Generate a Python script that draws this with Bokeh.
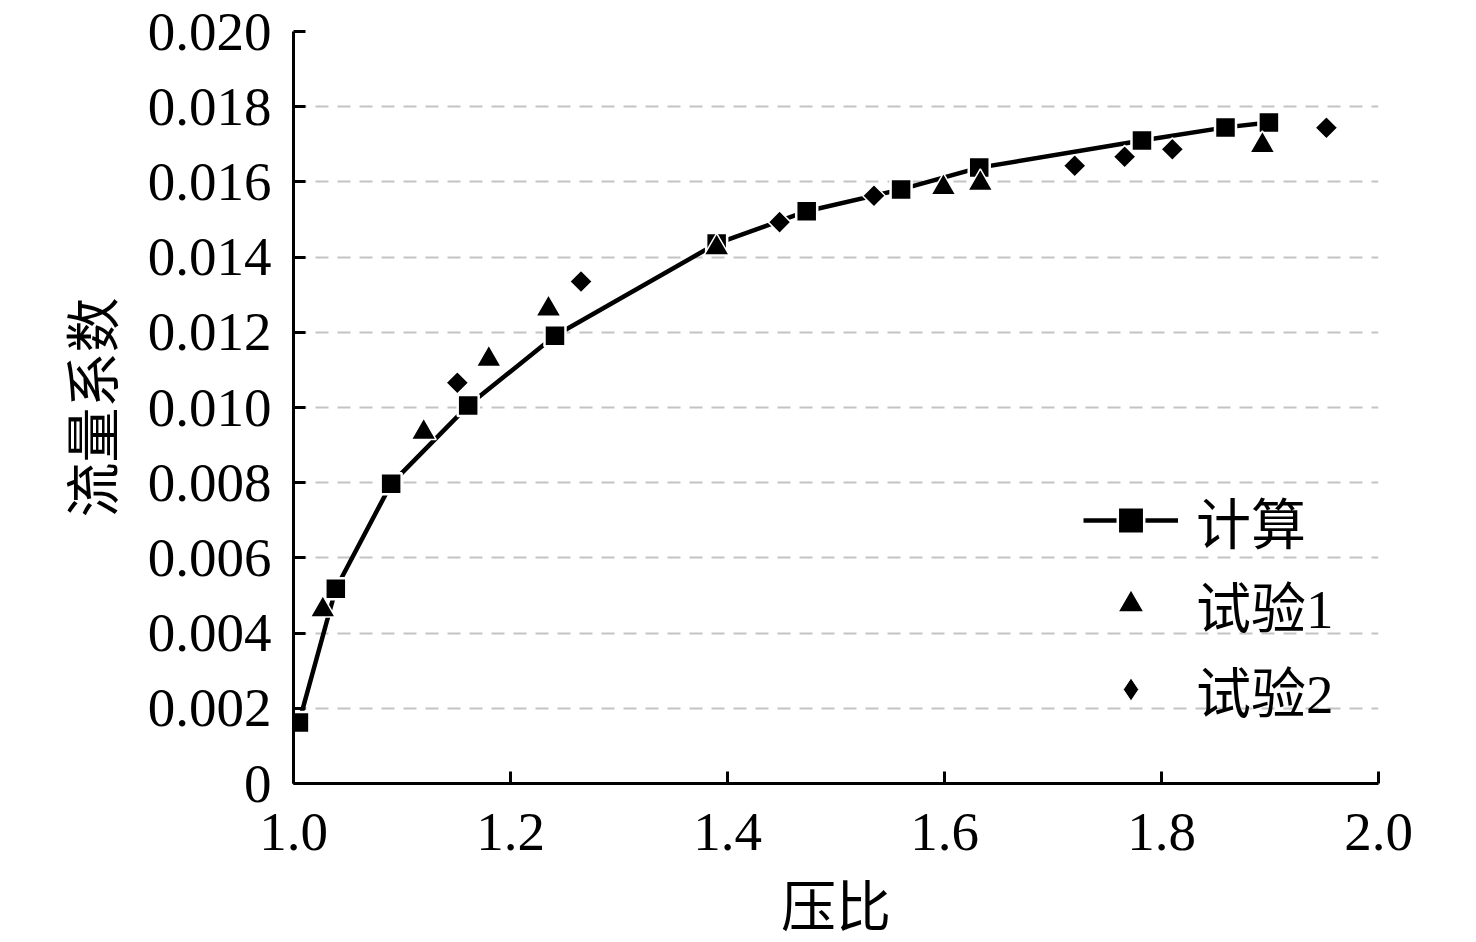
import math
from bokeh.plotting import figure
from bokeh.models import FixedTicker, Legend, LegendItem, Range1d
from bokeh.embed import file_html
from bokeh.resources import INLINE

# ---- data ----
calc_x = [1.005, 1.039, 1.090, 1.161, 1.241, 1.390, 1.473, 1.560, 1.632, 1.782, 1.859, 1.899]
calc_y = [0.00162, 0.00518, 0.00797, 0.01005, 0.01191, 0.01436, 0.01522, 0.01580, 0.01638, 0.01710, 0.01745, 0.01758]

t1_x = [1.027, 1.120, 1.180, 1.235, 1.390, 1.599, 1.633, 1.893]
t1_y = [0.00462, 0.00934, 0.01128, 0.01262, 0.01425, 0.01585, 0.01596, 0.01697]

t2_x = [1.151, 1.265, 1.448, 1.535, 1.720, 1.766, 1.810, 1.952]
t2_y = [0.01066, 0.01335, 0.01493, 0.01563, 0.01643, 0.01667, 0.01687, 0.01744]

x_ticks = [1.0, 1.2, 1.4, 1.6, 1.8, 2.0]
x_tick_labels = ["1.0", "1.2", "1.4", "1.6", "1.8", "2.0"]
y_ticks = [0, 0.002, 0.004, 0.006, 0.008, 0.010, 0.012, 0.014, 0.016, 0.018, 0.020]
y_tick_labels = ["0", "0.002", "0.004", "0.006", "0.008", "0.010", "0.012", "0.014", "0.016", "0.018", "0.020"]

series_names = ["计算", "试验1", "试验2"]
x_label = "压比"
y_label = "流量系数"

FONT = "Liberation Serif, Noto Sans CJK SC"
FS = "55px"

p = figure(width=1476, height=942, output_backend="svg", toolbar_location=None,
           x_range=Range1d(1.0, 2.0), y_range=Range1d(0, 0.020),
           min_border_left=293, min_border_right=98, min_border_top=31, min_border_bottom=159)
p.outline_line_color = None
p.background_fill_color = "white"
p.border_fill_color = "white"

# grid
p.xgrid.visible = False
p.ygrid.ticker = FixedTicker(ticks=y_ticks[1:])
p.ygrid.grid_line_color = "#c4c4c4"
p.ygrid.grid_line_width = 2
p.ygrid.grid_line_dash = "13 9"

# axes
for ax in (p.xaxis[0], p.yaxis[0]):
    ax.axis_line_width = 3
    ax.axis_line_color = "black"
    ax.major_tick_line_width = 3
    ax.major_tick_line_color = "black"
    ax.major_tick_in = 12
    ax.major_tick_out = 0
    ax.minor_tick_line_color = None
    ax.major_label_text_font = FONT
    ax.major_label_text_font_size = FS
    ax.major_label_text_color = "black"
    ax.axis_label_text_font = FONT
    ax.axis_label_text_font_size = FS
    ax.axis_label_text_font_style = "normal"
    ax.axis_label_text_color = "black"

p.xaxis.ticker = FixedTicker(ticks=x_ticks)
p.xaxis.major_label_overrides = {t: l for t, l in zip(x_ticks, x_tick_labels)}
p.yaxis.ticker = FixedTicker(ticks=y_ticks)
p.yaxis.major_label_overrides = {t: l for t, l in zip(y_ticks, y_tick_labels)}
p.xaxis.axis_label = x_label
p.yaxis.axis_label = y_label
p.xaxis.major_label_standoff = 30
p.yaxis.major_label_standoff = 22
p.xaxis.axis_label_standoff = 24
p.yaxis.axis_label_standoff = 20

# glyphs
ln = p.line(calc_x, calc_y, line_color="black", line_width=4.5)
sq = p.scatter(calc_x, calc_y, marker="square", size=21, fill_color="black",
               line_color="white", line_width=2.5)
tr = p.scatter(t1_x, t1_y, marker="triangle", size=25, fill_color="black",
               line_color="white", line_width=1.5)
dm = p.scatter(t2_x, t2_y, marker="square", angle=math.pi / 4, size=16, fill_color="black",
               line_color="white", line_width=1.5)
# hidden twin of the 试验2 series, used only for its legend key (diamond shape)
dm_key = p.scatter(t2_x, t2_y, marker="diamond", size=22, fill_color="black",
                   line_color="white", line_width=1.0, visible=False)


def style_legend(lg, gh):
    lg.border_line_color = None
    lg.background_fill_alpha = 0
    lg.inactive_fill_alpha = 0
    lg.padding = 0
    lg.margin = 0
    lg.spacing = 4
    lg.glyph_width = 95
    lg.glyph_height = gh
    lg.label_standoff = 18
    lg.label_text_font = FONT
    lg.label_text_font_size = FS
    lg.label_text_color = "black"
    lg.click_policy = "none"


legend1 = Legend(items=[LegendItem(label=series_names[0], renderers=[ln, sq]),
                        LegendItem(label=series_names[1], renderers=[tr])],
                 location=(790, 139))
style_legend(legend1, 66)
legend2 = Legend(items=[LegendItem(label=series_names[2], renderers=[dm_key])],
                 location=(790, 54))
style_legend(legend2, 58)
p.add_layout(legend1, "center")
p.add_layout(legend2, "center")

open("out.html", "w").write(file_html(p, INLINE))
